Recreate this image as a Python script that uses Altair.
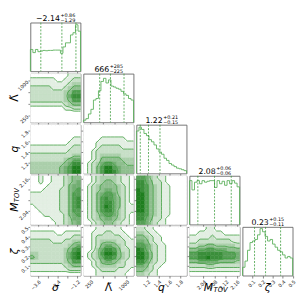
import numpy as np
import pandas as pd
import altair as alt

W, H = 51.5, 50
GAP = 2.5

# ---------------- data ----------------
LO = [-4.07, 100.0, 1.0, 1.99, 0.0]
HI = [-1.0, 1150.0, 1.915, 2.17, 0.5]
TICKS = [[-3.6, -3.0, -2.4, -1.8, -1.2], [250, 500, 750, 1000],
         [1.2, 1.4, 1.6, 1.8], [2.04, 2.08, 2.12, 2.16], [0.1, 0.2, 0.3, 0.4, 0.5]]
FMT = [".1f", "d", ".1f", ".2f", ".1f"]

hist_sigma = [69, 59, 69, 62, 64, 66, 65, 66, 66, 67, 67, 67, 57, 77, 90, 90, 115, 122, 147, 127]
hist_lambda = [7, 12, 27, 42, 72, 77, 102, 132, 142, 127, 137, 117, 114, 110, 107, 100, 92, 87, 77, 72]
hist_q = [137, 149, 142, 129, 122, 109, 102, 92, 79, 69, 62, 49, 42, 32, 27, 22, 17, 15, 12, 9]
hist_mtov = [142, 112, 137, 142, 132, 142, 137, 140, 142, 142, 120, 142, 132, 140, 127, 142, 132, 142, 134, 122]
hist_zeta = [27, 47, 82, 107, 112, 117, 132, 152, 142, 127, 112, 117, 102, 92, 82, 77, 67, 57, 62, 57]
HISTS = [hist_sigma, hist_lambda, hist_q, hist_mtov, hist_zeta]
HTOP = [154, 157, 157, 157.5, 157.5]

Q16 = [-3.43, 441, 1.07, 2.02, 0.12]
MED = [-2.14, 666, 1.22, 2.08, 0.23]
Q84 = [-1.28, 951, 1.43, 2.14, 0.38]
T_MAIN = ["\u22122.14", "666", "1.22", "2.08", "0.23"]
T_UP = ["+0.86", "+285", "+0.21", "+0.06", "+0.15"]
T_LO = ["\u22121.29", "\u2212225", "\u22120.15", "\u22120.06", "\u22120.11"]

# 2D density levels (rows: top -> bottom of the panel, cols: left -> right)
G21 = ["111111111222", "222222112233", "222222222344", "333332223455",
       "333333334577", "333333334688", "333333334577", "222222223455",
       "111111112233", "111111111111", "000000000000", "000000000000"]
G31 = ["000000000000", "000000000000", "111111111111", "111111111122",
       "111111111222", "222222222233", "222222222333", "333333333344",
       "333333334566", "444444445688", "444444456799", "444444456799"]
G32 = ["000000000000", "000000000000", "000111111111", "001122222211",
       "001222222222", "011233333222", "012333333333", "012344444333",
       "112355555444", "123467765544", "123579976555", "123579986555"]
G41 = ["112112223455", "112112223456", "111122223566", "111222233567",
       "222222233577", "222222233578", "222222233578", "122222233578",
       "112222233577", "111222223567", "111112223466", "111111223456"]
G42 = ["112344443221", "112345543221", "123455554321", "123456654321",
       "123567764321", "123578765321", "123578865321", "123579865322",
       "123578864322", "123467764321", "123456654321", "112345543221"]
G43 = ["776432211100", "886533211100", "887543221100", "987543221100",
       "997543221100", "997543221100", "997543221100", "997543221100",
       "997543221100", "887543221100", "886533211100", "776432211100"]
G51 = ["111111111111", "222222112222", "222222222233", "333332223344",
       "333333333456", "333333334578", "443333334689", "543333334689",
       "333333334577", "222222223455", "222222222333", "111111111111"]
G52 = ["011222222111", "012223322211", "012333333221", "012344443322",
       "112356654322", "112468875332", "123479985432", "123468875432",
       "112356654322", "012344443322", "011233332221", "011222222211"]
G53 = ["332211100000", "443221110000", "554322110000", "665322111000",
       "776432211000", "986432211000", "997532211000", "997532211000",
       "886432211000", "665322111000", "554321110000", "443221100000"]
G54 = ["111122111111", "112222221111", "222223222222", "223333333322",
       "334455444443", "556677666555", "778888887776", "778898887776",
       "556666655554", "333344333333", "222222222222", "111111111111"]
GRIDS = {(1, 0): G21, (2, 0): G31, (2, 1): G32, (3, 0): G41, (3, 1): G42,
         (3, 2): G43, (4, 0): G51, (4, 1): G52, (4, 2): G53, (4, 3): G54}
LEVELS = [1.5, 2.5, 4.5, 6.5]

# ---------------- styling ----------------
FONT = "DejaVu Sans"
LINE = "#3f9f3f"
HCOL = "#5bb05b"
QCOL = "#3a9a3a"
FRAME = "#666666"
CSCALE = alt.Scale(domain=[1, 9], range=["#ffffff", "#1f7f1f"], clamp=True, interpolate="rgb")


def xscale(k):
    return alt.Scale(domain=[LO[k], HI[k]], nice=False, zero=False)


def axis(k, labels, orient):
    return alt.Axis(values=TICKS[k], labels=labels, format=FMT[k], labelAngle=-45,
                    labelFontSize=5, labelPadding=1, tickSize=2.5, domain=False,
                    grid=False, orient=orient)


def one():
    return pd.DataFrame({"d": [0]})


def txt(s, x, y, size, italic=False, align="center", baseline="middle", angle=0):
    kw = dict(text=s, font=FONT, fontSize=size, align=align, baseline=baseline, color="black")
    if italic:
        kw["fontStyle"] = "italic"
    if angle:
        kw["angle"] = angle
    return alt.Chart(one()).mark_text(**kw).encode(x=alt.value(x), y=alt.value(y))


XT_Y = H + 13
YT_X = -16


def xtitle(k):
    if k == 3:
        return [txt("M", W / 2 - 11, XT_Y, 11, True, "left"),
                txt("TOV", W / 2 - 1, XT_Y + 2, 7, True, "left")]
    if k == 1:
        return [txt("\u039b\u0303", W / 2, XT_Y, 11)]
    return [txt(["\u03c3", "", "q", "", "\u03b6"][k], W / 2, XT_Y, 11, True)]


def ytitle(k):
    if k == 3:
        return [txt("M", YT_X, H / 2 + 12, 11, True, "left", angle=270),
                txt("TOV", YT_X + 2.5, H / 2 + 2, 7, True, "left", angle=270)]
    if k == 1:
        return [txt("\u039b\u0303", YT_X, H / 2, 11, angle=270)]
    return [txt(["", "", "q", "", "\u03b6"][k], YT_X, H / 2, 11, True, angle=270)]


CW = {"\u2212": 0.838, "+": 0.838, ".": 0.318}


def width(s, fs):
    return sum(CW.get(c, 0.636) for c in s) * fs


def contour_segments(xs, ys, Z, lev):
    out = []
    ny, nx = Z.shape
    for j in range(ny - 1):
        for i in range(nx - 1):
            v = [Z[j, i], Z[j, i + 1], Z[j + 1, i + 1], Z[j + 1, i]]
            p = [(xs[i], ys[j]), (xs[i + 1], ys[j]), (xs[i + 1], ys[j + 1]), (xs[i], ys[j + 1])]
            e = {}
            for n, (a, b) in enumerate([(0, 1), (1, 2), (3, 2), (0, 3)]):
                if (v[a] > lev) != (v[b] > lev):
                    t = (lev - v[a]) / (v[b] - v[a])
                    e[n] = (p[a][0] + t * (p[b][0] - p[a][0]), p[a][1] + t * (p[b][1] - p[a][1]))
            if len(e) == 2:
                a, b = list(e.values())
                out.append((a, b))
            elif len(e) == 4:
                c = sum(v) / 4
                pairs = [(0, 1), (2, 3)] if (c > lev) == (v[0] > lev) else [(0, 3), (1, 2)]
                for a, b in pairs:
                    out.append((e[a], e[b]))
    return out


def panel2d(r, c):
    grid = np.array([[int(ch) for ch in row] for row in GRIDS[(r, c)]], dtype=float)[::-1]
    ny, nx = grid.shape
    xe = np.linspace(LO[c], HI[c], nx + 1)
    ye = np.linspace(LO[r], HI[r], ny + 1)
    rows = []
    for j in range(ny):
        for i in range(nx):
            rows.append({"x": xe[i], "x2": xe[i + 1], "y": ye[j], "y2": ye[j + 1], "v": grid[j, i]})
    rect_df = pd.DataFrame(rows)
    xc = (xe[:-1] + xe[1:]) / 2
    yc = (ye[:-1] + ye[1:]) / 2
    xs = np.concatenate([[LO[c]], xc, [HI[c]]])
    ys = np.concatenate([[LO[r]], yc, [HI[r]]])
    Z = np.pad(grid, 1, mode="edge")
    segs = []
    for lev in LEVELS:
        for (a, b) in contour_segments(xs, ys, Z, lev):
            segs.append({"x": a[0], "y": a[1], "x2": b[0], "y2": b[1]})
    seg_df = pd.DataFrame(segs)
    X = alt.X("x:Q", scale=xscale(c), axis=axis(c, r == 4, "bottom"), title=None)
    Y = alt.Y("y:Q", scale=xscale(r), axis=axis(r, c == 0, "left"), title=None)
    heat = alt.Chart(rect_df).mark_rect(strokeWidth=0.5).encode(
        x=X, x2="x2:Q", y=Y, y2="y2:Q",
        color=alt.Color("v:Q", scale=CSCALE, legend=None),
        stroke=alt.Stroke("v:Q", scale=CSCALE, legend=None))
    cont = alt.Chart(seg_df).mark_rule(color=LINE, strokeWidth=0.8).encode(
        x=X, y=Y, x2="x2:Q", y2="y2:Q")
    layers = [heat, cont]
    if r == 4:
        layers += xtitle(c)
    if c == 0:
        layers += ytitle(r)
    return alt.layer(*layers).properties(width=W, height=H)


def hist_panel(k):
    counts = HISTS[k]
    edges = np.linspace(LO[k], HI[k], len(counts) + 1)
    xs = [edges[0]] + list(edges[:-1]) + [edges[-1], edges[-1]]
    ys = [0] + list(counts) + [counts[-1], 0]
    df = pd.DataFrame({"x": xs, "c": ys, "i": list(range(len(xs)))})
    X = alt.X("x:Q", scale=xscale(k), axis=axis(k, k == 4, "bottom"), title=None)
    line = alt.Chart(df).mark_line(interpolate="step-after", color=HCOL, strokeWidth=0.9).encode(
        x=X, y=alt.Y("c:Q", scale=alt.Scale(domain=[0, HTOP[k]]), axis=None), order="i:Q")
    qdf = pd.DataFrame({"x": [Q16[k], MED[k], Q84[k]]})
    rules = alt.Chart(qdf).mark_rule(color=QCOL, strokeWidth=0.8, strokeDash=[2, 1.5]).encode(x=X)
    mw = width(T_MAIN[k], 8)
    sw = max(width(T_UP[k], 5), width(T_LO[k], 5))
    split = W / 2 - (mw + sw) / 2 + mw
    layers = [line, rules,
              txt(T_MAIN[k], split, -2, 8, align="right", baseline="alphabetic"),
              txt(T_UP[k], split + 0.5, -6, 5, align="left", baseline="alphabetic"),
              txt(T_LO[k], split + 0.5, -0.5, 5, align="left", baseline="alphabetic")]
    if k == 4:
        layers += xtitle(k)
    return alt.layer(*layers).properties(width=W, height=H)


def blank():
    return alt.Chart(one()).mark_point(opacity=0).encode(
        x=alt.X("d:Q", axis=None), y=alt.Y("d:Q", axis=None)
    ).properties(width=W, height=H, view=alt.ViewBackground(strokeOpacity=0))


cells = []
for r in range(5):
    for c in range(5):
        if c == r:
            cells.append(hist_panel(r))
        elif c < r:
            cells.append(panel2d(r, c))
        else:
            cells.append(blank())

chart = alt.concat(*cells, columns=5, spacing=GAP, bounds="flush").properties(
    padding=0
).configure(font=FONT).configure_view(
    stroke=FRAME, strokeWidth=0.9
).configure_axis(
    tickColor=FRAME, tickWidth=0.8, labelColor="#222222", labelFont=FONT
)

chart.save("out.html", embed_options={"renderer": "svg", "actions": False})
